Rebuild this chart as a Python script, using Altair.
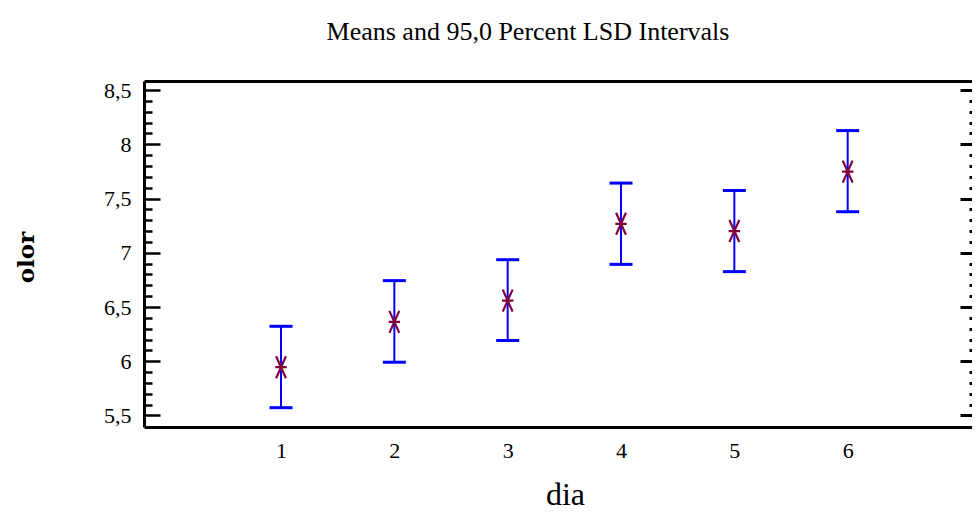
import altair as alt
import pandas as pd

# ---- data ----
dia = [1, 2, 3, 4, 5, 6]
means = [5.945, 6.363, 6.559, 7.267, 7.200, 7.748]
lower = [5.572, 5.991, 6.191, 6.893, 6.826, 7.378]
upper = [6.322, 6.743, 6.936, 7.642, 7.574, 8.126]

y_major = [5.5, 6.0, 6.5, 7.0, 7.5, 8.0, 8.5]
y_all = [round(5.5 + 0.1 * i, 1) for i in range(31)]

title_text = "Means and 95,0 Percent LSD Intervals"
x_title = "dia"
y_title = "olor"

df = pd.DataFrame({"dia": dia, "mean": means, "lower": lower, "upper": upper})

W, H = 828, 346
PAD = {"left": 136, "top": 73, "right": 0, "bottom": 84}
SERIF = "Liberation Serif"
BLUE = "#0000ff"
STAR = "#800040"

xs = alt.Scale(domain=[-0.209, 7.097], nice=False, zero=False)
ys = alt.Scale(domain=[5.394, 8.583], nice=False, zero=False)

major_test = "abs(datum.value*2 - round(datum.value*2)) < 0.001"

x_main = alt.Axis(
    values=dia, format="d", ticks=False, tickSize=0, grid=False,
    domainWidth=3, domainColor="black",
    labelFont=SERIF, labelFontSize=22, labelColor="black", labelPadding=13,
    title=x_title, titleFont=SERIF, titleFontSize=32, titleFontWeight="normal",
    titleColor="black", titleX=421, titleY=77, titleAlign="center",
    titleBaseline="alphabetic",
)
x_top = alt.Axis(
    orient="top", ticks=False, tickSize=0, labels=False, grid=False,
    domainWidth=3, domainColor="black", title=None,
)
y_main = alt.Axis(
    orient="left", values=y_major, format=".1~f",
    labelExpr="replace(datum.label, '.', ',')",
    ticks=False, tickSize=0, grid=False,
    domainWidth=3, domainColor="black",
    labelFont=SERIF, labelFontSize=22, labelColor="black", labelPadding=13,
    title=y_title, titleFont="DejaVu Serif", titleFontSize=23,
    titleFontWeight="bold", titleColor="black", titleAngle=270,
    titleX=-118, titleY=176, titleAlign="center", titleBaseline="middle",
)
y_left_ticks = alt.Axis(
    orient="right", offset=-W, values=y_all, labels=False, domain=False,
    grid=False, tickColor="black", tickWidth=2.5,
    tickSize={"condition": {"test": major_test, "value": 16}, "value": 8},
    title=None,
)
y_right_ticks = alt.Axis(
    orient="left", offset=-W, values=y_all, labels=False, domain=False,
    grid=False, tickColor="black", tickWidth=3,
    tickSize={"condition": {"test": major_test, "value": 12}, "value": 3},
    title=None,
)

base = alt.Chart(df)

bars = base.mark_rule(color=BLUE, strokeWidth=2).encode(
    x=alt.X("dia:Q", scale=xs, axis=x_main),
    y=alt.Y("lower:Q", scale=ys, axis=y_main),
    y2="upper:Q",
)
cap_lo = base.mark_tick(orient="horizontal", color=BLUE, size=23,
                        thickness=3, opacity=1).encode(
    x=alt.X("dia:Q", scale=xs, axis=x_top),
    y=alt.Y("lower:Q", scale=ys, axis=y_left_ticks),
)
cap_hi = base.mark_tick(orient="horizontal", color=BLUE, size=23,
                        thickness=3, opacity=1).encode(
    x=alt.X("dia:Q", scale=xs, axis=None),
    y=alt.Y("upper:Q", scale=ys, axis=y_right_ticks),
)
star_path = "M-0.52,0L0.52,0M-0.45,-1L0.45,1M-0.45,1L0.45,-1"
stars = base.mark_point(shape=star_path, filled=False, color=STAR,
                        strokeWidth=2.2, size=484, opacity=1).encode(
    x=alt.X("dia:Q", scale=xs, axis=None),
    y=alt.Y("mean:Q", scale=ys, axis=None),
)

chart = (
    alt.layer(bars, cap_lo, cap_hi, stars)
    .resolve_axis(x="independent", y="independent")
    .properties(
        width=W, height=H, padding=PAD,
        autosize=alt.AutoSizeParams(type="none"),
        title=alt.TitleParams(
            text=title_text, font=SERIF, fontSize=26, fontWeight="normal",
            color="black", anchor="middle", frame="group", dx=-30,
            baseline="alphabetic", offset=13,
        ),
        background="white",
    )
    .configure_view(stroke=None)
)

chart.save("out.html", embed_options={"renderer": "svg", "actions": False})
